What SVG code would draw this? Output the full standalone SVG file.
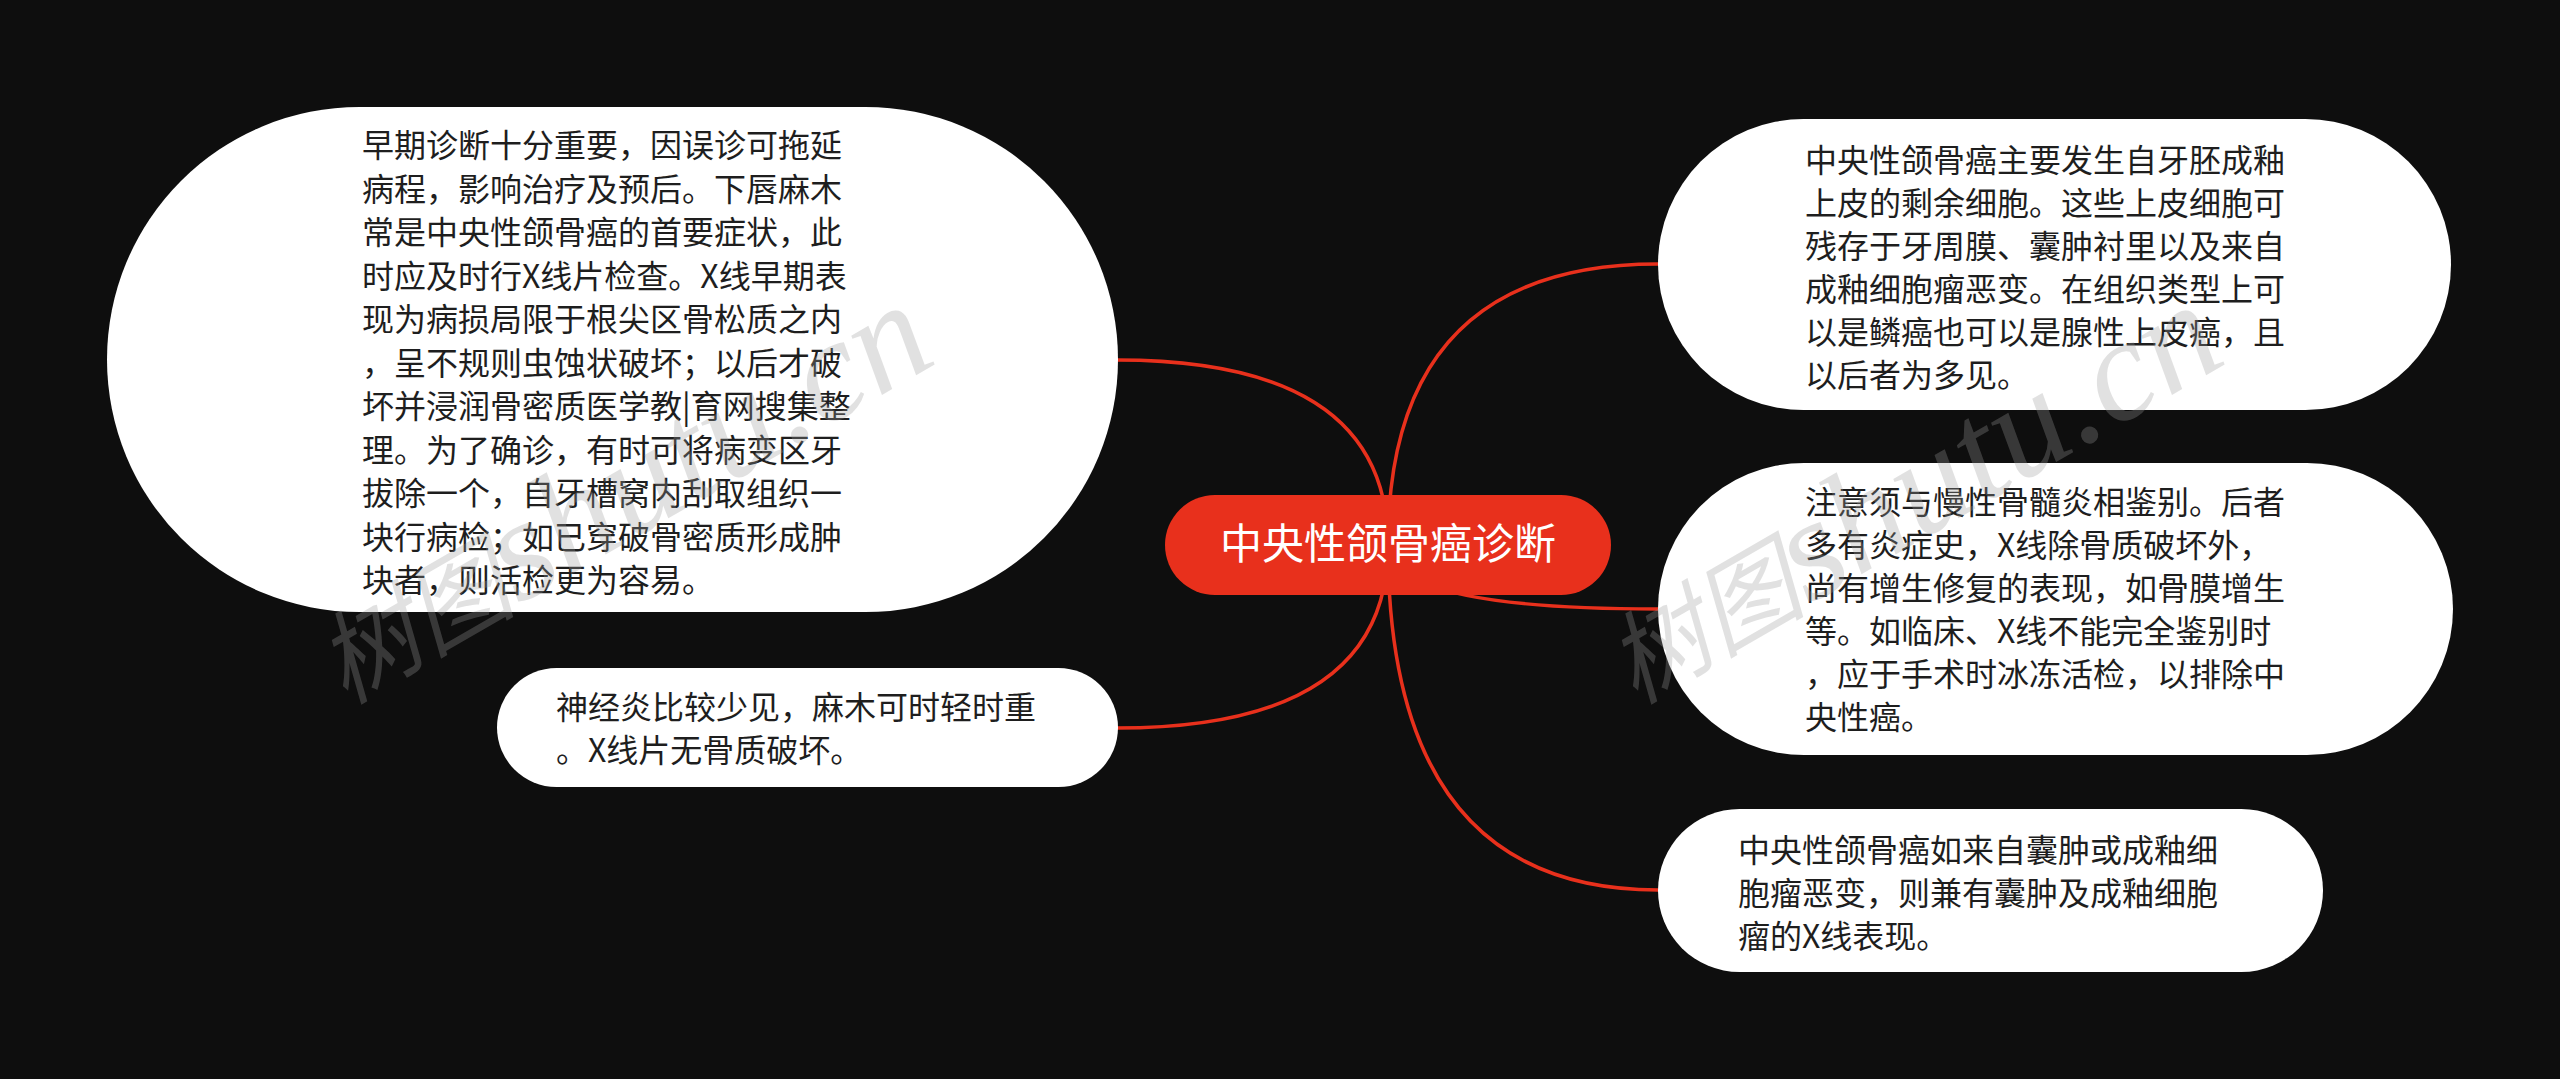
<svg xmlns="http://www.w3.org/2000/svg" width="2560" height="1079" viewBox="0 0 2560 1079">
<style>
.bg{fill:#0e0e0e}
.edge{fill:none;stroke:#e8301c;stroke-width:3.5}
.leaf{fill:#ffffff}
.root{fill:#e8301c}
.t{font-family:"Noto Sans CJK SC","Noto Sans",sans-serif;font-size:32px;fill:#1e1e1e}
.rt{font-family:"Noto Sans CJK SC","Noto Sans",sans-serif;font-size:42px;fill:#ffffff;text-anchor:middle}
.wm{font-family:"Liberation Serif","Noto Sans CJK SC",serif;font-style:italic;fill:#9a9a9a;fill-opacity:0.3}
</style>
<rect class="bg" x="0" y="0" width="2560" height="1079"/>
<g id="connectors">
<path class="edge" d="M1388,545 Q1388,360 1117,360"/>
<path class="edge" d="M1388,545 Q1388,728 1117,728"/>
<path class="edge" d="M1388,545 Q1388,264 1658,264"/>
<path class="edge" d="M1388,545 Q1388,609 1658,609"/>
<path class="edge" d="M1388,545 Q1388,890 1658,890"/>
</g>
<g id="root">
<rect class="root" x="1165" y="495" width="446" height="100" rx="50"/>
<text class="rt" x="1388" y="559">中央性颌骨癌诊断</text>
</g>
<g id="node-early">
<rect class="leaf" x="107" y="107" width="1011" height="505" rx="252.5"/>
<text class="t">
<tspan x="362" y="157">早期诊断十分重要，因误诊可拖延</tspan>
<tspan x="362" y="200.5">病程，影响治疗及预后。下唇麻木</tspan>
<tspan x="362" y="244">常是中央性颌骨癌的首要症状，此</tspan>
<tspan x="362" y="287.5">时应及时行X线片检查。X线早期表</tspan>
<tspan x="362" y="331">现为病损局限于根尖区骨松质之内</tspan>
<tspan x="362" y="374.5">，呈不规则虫蚀状破坏；以后才破</tspan>
<tspan x="362" y="418">坏并浸润骨密质医学教|育网搜集整</tspan>
<tspan x="362" y="461.5">理。为了确诊，有时可将病变区牙</tspan>
<tspan x="362" y="505">拔除一个，自牙槽窝内刮取组织一</tspan>
<tspan x="362" y="548.5">块行病检；如已穿破骨密质形成肿</tspan>
<tspan x="362" y="592">块者，则活检更为容易。</tspan>
</text>
</g>
<g id="node-neuritis">
<rect class="leaf" x="497" y="668" width="621" height="119" rx="59.5"/>
<text class="t">
<tspan x="556" y="719">神经炎比较少见，麻木可时轻时重</tspan>
<tspan x="556" y="762">。X线片无骨质破坏。</tspan>
</text>
</g>
<g id="node-origin">
<rect class="leaf" x="1658" y="119" width="793" height="291" rx="145.5"/>
<text class="t">
<tspan x="1805" y="172">中央性颌骨癌主要发生自牙胚成釉</tspan>
<tspan x="1805" y="215">上皮的剩余细胞。这些上皮细胞可</tspan>
<tspan x="1805" y="258">残存于牙周膜、囊肿衬里以及来自</tspan>
<tspan x="1805" y="301">成釉细胞瘤恶变。在组织类型上可</tspan>
<tspan x="1805" y="344">以是鳞癌也可以是腺性上皮癌，且</tspan>
<tspan x="1805" y="387">以后者为多见。</tspan>
</text>
</g>
<g id="node-differential">
<rect class="leaf" x="1658" y="463" width="795" height="292" rx="146"/>
<text class="t">
<tspan x="1805" y="514">注意须与慢性骨髓炎相鉴别。后者</tspan>
<tspan x="1805" y="557">多有炎症史，X线除骨质破坏外，</tspan>
<tspan x="1805" y="600">尚有增生修复的表现，如骨膜增生</tspan>
<tspan x="1805" y="643">等。如临床、X线不能完全鉴别时</tspan>
<tspan x="1805" y="686">，应于手术时冰冻活检，以排除中</tspan>
<tspan x="1805" y="729">央性癌。</tspan>
</text>
</g>
<g id="node-cyst">
<rect class="leaf" x="1658" y="809" width="665" height="163" rx="81.5"/>
<text class="t">
<tspan x="1738" y="862">中央性颌骨癌如来自囊肿或成釉细</tspan>
<tspan x="1738" y="905">胞瘤恶变，则兼有囊肿及成釉细胞</tspan>
<tspan x="1738" y="948">瘤的X线表现。</tspan>
</text>
</g>
<g id="watermarks">
<text class="wm" transform="translate(345,705) rotate(-30)"><tspan font-size="100">树图</tspan><tspan font-size="145">shutu.cn</tspan></text>
<text class="wm" transform="translate(1635,705) rotate(-30)"><tspan font-size="100">树图</tspan><tspan font-size="145">shutu.cn</tspan></text>
</g>
</svg>
